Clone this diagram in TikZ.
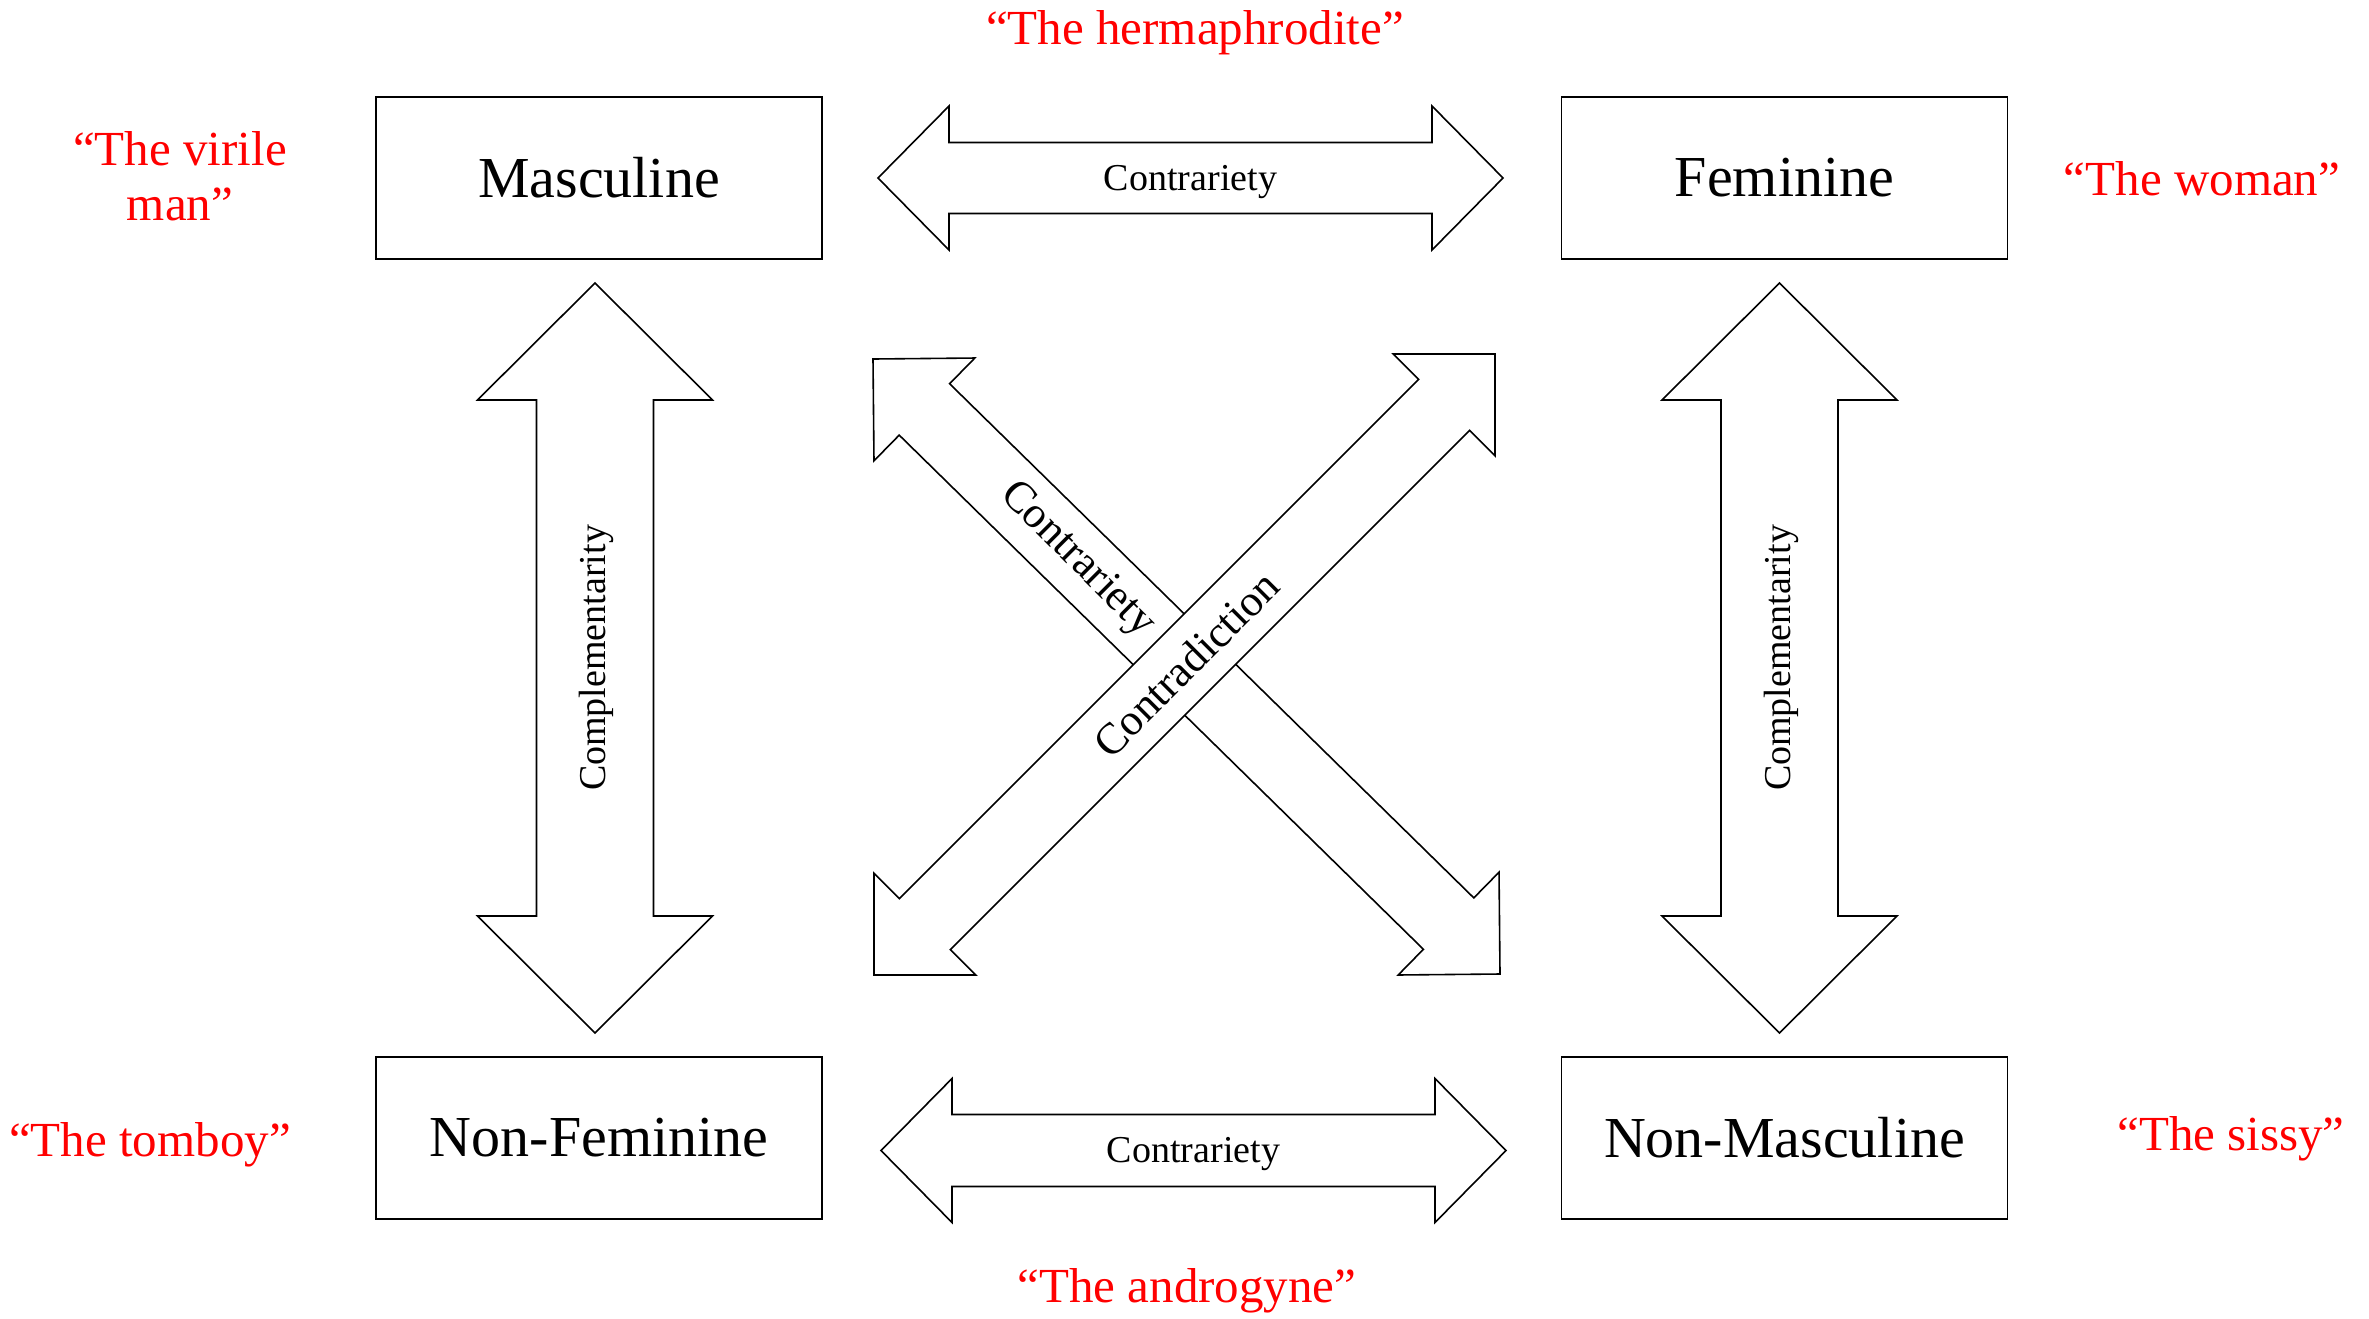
\documentclass[tikz,border=0pt]{standalone}
\usepackage{fontspec}
\setmainfont{Liberation Serif}
\usetikzlibrary{calc}
\tikzset{
  box/.style={draw, line width=1.6pt, minimum width=446pt, minimum height=162pt, inner sep=0pt, font=\fontsize{58}{60}\selectfont},
  arrowbox/.style={draw, fill=white, line width=1.6pt, line join=miter},
  lbl/.style={font=\fontsize{38}{40}\selectfont, inner sep=0pt},
  dlbl/.style={font=\fontsize{44}{46}\selectfont, inner sep=0pt},
  redlbl/.style={text=red, font=\fontsize{49}{55}\selectfont, align=center, inner sep=0pt},
}
% #1 start tip, #2 end tip, #3 head length, #4 shaft half width, #5 head half width
\newcommand\blockarrow[5]{%
  \coordinate (ba1) at ($(#1)!#3!(#2)$);
  \coordinate (ba2) at ($(#2)!#3!(#1)$);
  \draw[arrowbox] (#1) -- ($(ba1)!#5!90:(#2)$) -- ($(ba1)!#4!90:(#2)$)
    -- ($(ba2)!#4!-90:(#1)$) -- ($(ba2)!#5!-90:(#1)$) -- (#2)
    -- ($(ba2)!#5!90:(#1)$) -- ($(ba2)!#4!90:(#1)$)
    -- ($(ba1)!#4!-90:(#2)$) -- ($(ba1)!#5!-90:(#2)$) -- cycle;
}
\begin{document}
\begin{tikzpicture}[x=1pt,y=-1pt]
\useasboundingbox[fill=white] (0,0) rectangle (2369,1318);

% boxes
\node[box] (masc) at (599,178) {Masculine};
\node[box] (fem) at (1784.5,178) {Feminine};
\node[box] (nfem) at (599,1138) {Non-Feminine};
\node[box] (nmasc) at (1784.5,1138) {Non-Masculine};

% arrow tips
\coordinate (ht1) at (878,178);
\coordinate (ht2) at (1503,178);
\coordinate (hb1) at (881,1150.5);
\coordinate (hb2) at (1506,1150.5);
\coordinate (vl1) at (595,283);
\coordinate (vl2) at (595,1033);
\coordinate (vr1) at (1779.5,283);
\coordinate (vr2) at (1779.5,1033);
\coordinate (d1a) at (873,359);
\coordinate (d1b) at (1500,974);
\coordinate (d2a) at (874,975);
\coordinate (d2b) at (1495,354);

% horizontal arrows
\blockarrow{ht1}{ht2}{71pt}{35.5pt}{72pt}
\node[lbl, anchor=base] (lt) at (1190.5,190) {Contrariety};
\blockarrow{hb1}{hb2}{71pt}{36pt}{72pt}
\node[lbl, anchor=base] (lb) at (1193.5,1162.5) {Contrariety};

% vertical arrows
\blockarrow{vl1}{vl2}{117pt}{58.5pt}{117.5pt}
\node[lbl, rotate=90] (ll) at (596,658) {Complementarity};
\blockarrow{vr1}{vr2}{117pt}{58.5pt}{117.5pt}
\node[lbl, rotate=90] (lr) at (1781,658) {Complementarity};

% diagonal arrows
\blockarrow{d1a}{d1b}{72pt}{36pt}{72pt}
\node[dlbl, rotate=-45] (ld1) at (1077,560) {Contrariety};
\blockarrow{d2a}{d2b}{72pt}{36pt}{72pt}
\node[dlbl, rotate=45] (ld2) at (1186,664) {Contradiction};

% red labels
\node[redlbl, anchor=base] (herm) at (1195,44) {“The hermaphrodite”};
\node[redlbl] (viri) at (180,176) {“The virile\\man”};
\node[redlbl, anchor=base] (woman) at (2202,195) {“The woman”};
\node[redlbl, anchor=base] (tomb) at (150,1156) {“The tomboy”};
\node[redlbl, anchor=base] (sissy) at (2231,1150) {“The sissy”};
\node[redlbl, anchor=base] (andr) at (1187,1302) {“The androgyne”};
\end{tikzpicture}
\end{document}
